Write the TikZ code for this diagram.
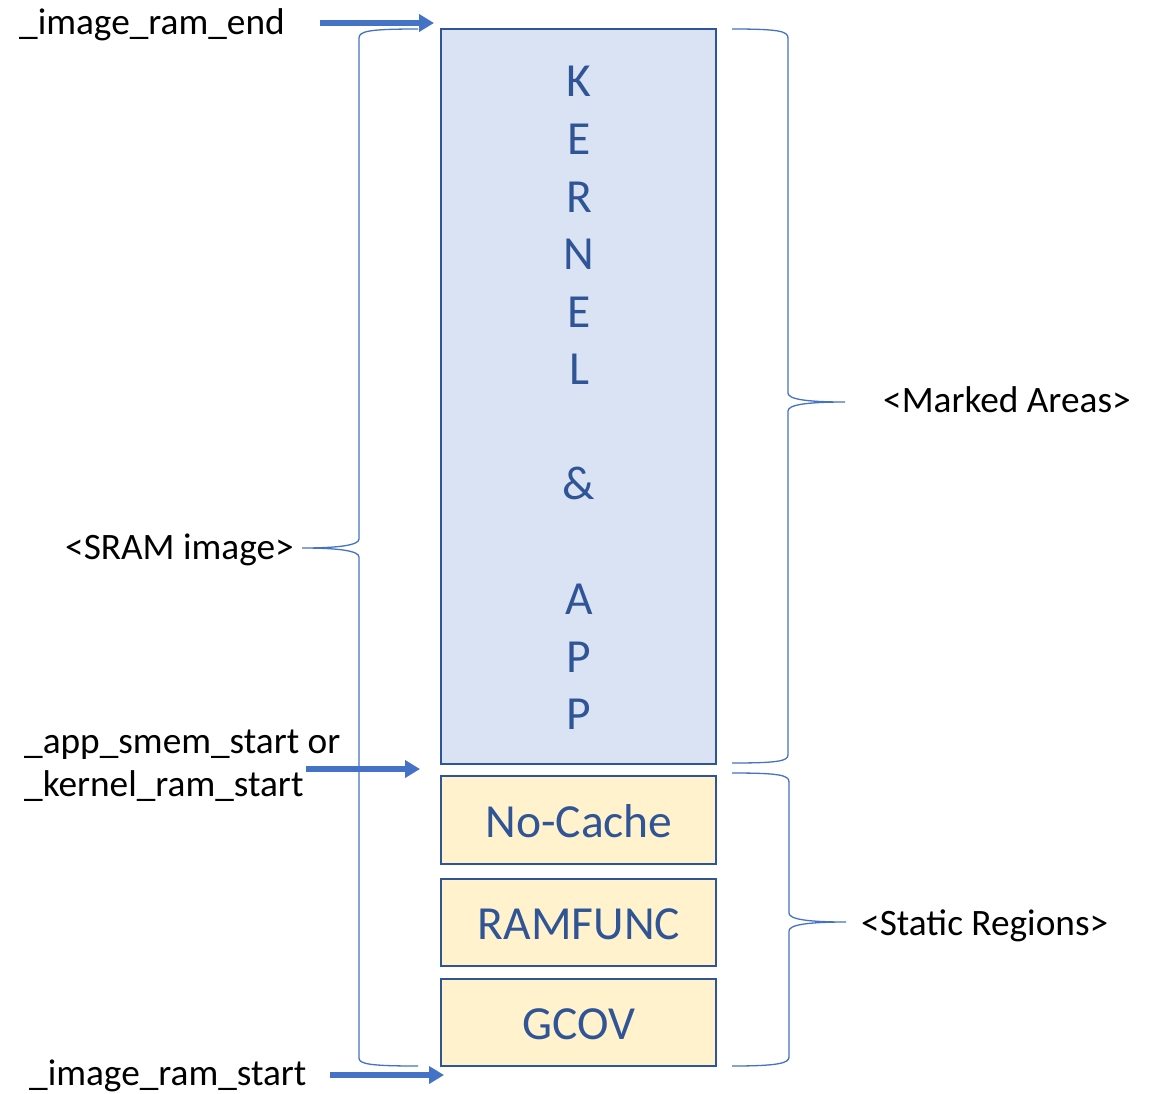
\documentclass[tikz,border=0pt]{standalone}
\usepackage{fontspec}
\setmainfont{Carlito}
\usetikzlibrary{arrows.meta}

\definecolor{boxline}{HTML}{2F5597}
\definecolor{kernfill}{HTML}{DAE3F3}
\definecolor{statfill}{HTML}{FFF2CC}
\definecolor{accent}{HTML}{4472C4}

\tikzset{
  region/.style={draw=boxline, line width=2.6pt, minimum width=275pt, inner sep=0pt},
  kernelbox/.style={region, fill=kernfill, minimum height=735pt},
  staticbox/.style={region, fill=statfill, minimum height=87pt},
  regiontext/.style={text=boxline, font=\fontsize{47.5}{56}\selectfont, anchor=base, inner sep=0pt},
  label/.style={text=black, font=\fontsize{37.3}{44}\selectfont, inner sep=0pt},
  pointer/.style={accent, line width=5.5pt, -{Triangle[length=15pt,width=17pt]}},
  bracket/.style={accent, line width=1.3pt}
}

\begin{document}
\begin{tikzpicture}[x=1pt, y=-1pt]
  \useasboundingbox (0,0) rectangle (1158,1093);

  % memory regions
  \node[kernelbox] (kernel) at (578.5,396.5) {};
  \node[staticbox, minimum height=88pt] (nocache) at (578.5,820) {};
  \node[staticbox] (ramfunc) at (578.5,922.5) {};
  \node[staticbox] (gcov) at (578.5,1022.5) {};

  % vertical caption of the kernel region
  \foreach \c/\y [count=\i] in {K/96, E/154, R/212, N/269, E/327, L/384, \&/499, A/614, P/672, P/729}
    \node[regiontext] (kl\i) at (579,\y) {\c};

  \node[regiontext] (nocachetxt) at (579,837) {No-Cache};
  \node[regiontext] (ramfunctxt) at (579,939) {RAMFUNC};
  \node[regiontext] (gcovtxt) at (579,1039) {GCOV};

  % symbol labels on the left
  \node[label, anchor=base west] (ramend) at (19,34) {\_image\_ram\_end};
  \node[label, anchor=base west] (sram) at (65,559) {<SRAM image>};
  \node[label, anchor=base west] (appsmem) at (24,753) {\_app\_smem\_start or};
  \node[label, anchor=base west] (kernstart) at (24,796) {\_kernel\_ram\_start};
  \node[label, anchor=base west] (ramstart) at (29,1085) {\_image\_ram\_start};

  % group labels on the right
  \node[label, anchor=base west] (marked) at (883,412) {<Marked Areas>};
  \node[label, anchor=base west] (static) at (861,935) {<Static Regions>};

  % address pointers
  \coordinate (p1s) at (320,23);  \coordinate (p1e) at (434,23);
  \coordinate (p2s) at (306,769); \coordinate (p2e) at (420,769);
  \coordinate (p3s) at (330,1075); \coordinate (p3e) at (444,1075);
  \draw[pointer] (p1s) -- (p1e);
  \draw[pointer] (p2s) -- (p2e);
  \draw[pointer] (p3s) -- (p3e);

  % brace around the whole SRAM image
  \draw[bracket] (418,29) .. controls (370,29) and (359,31) .. (359,38)
    -- (359,539) .. controls (359,545) and (340,548) .. (302,548)
    .. controls (340,548) and (359,551) .. (359,557)
    -- (359,1058) .. controls (359,1064) and (370,1066) .. (418,1066);

  % brace around the marked areas
  \draw[bracket] (732,29) .. controls (778,29) and (788,31) .. (788,38)
    -- (788,393) .. controls (788,399) and (805,402) .. (845,402)
    .. controls (805,402) and (788,405) .. (788,411)
    -- (788,755) .. controls (788,761) and (778,763) .. (732,763);

  % brace around the static regions
  \draw[bracket] (732,773) .. controls (779,773) and (789,775) .. (789,782)
    -- (789,913) .. controls (789,919) and (806,922) .. (846,922)
    .. controls (806,922) and (789,925) .. (789,931)
    -- (789,1057) .. controls (789,1063) and (779,1066) .. (732,1066);
\end{tikzpicture}
\end{document}
